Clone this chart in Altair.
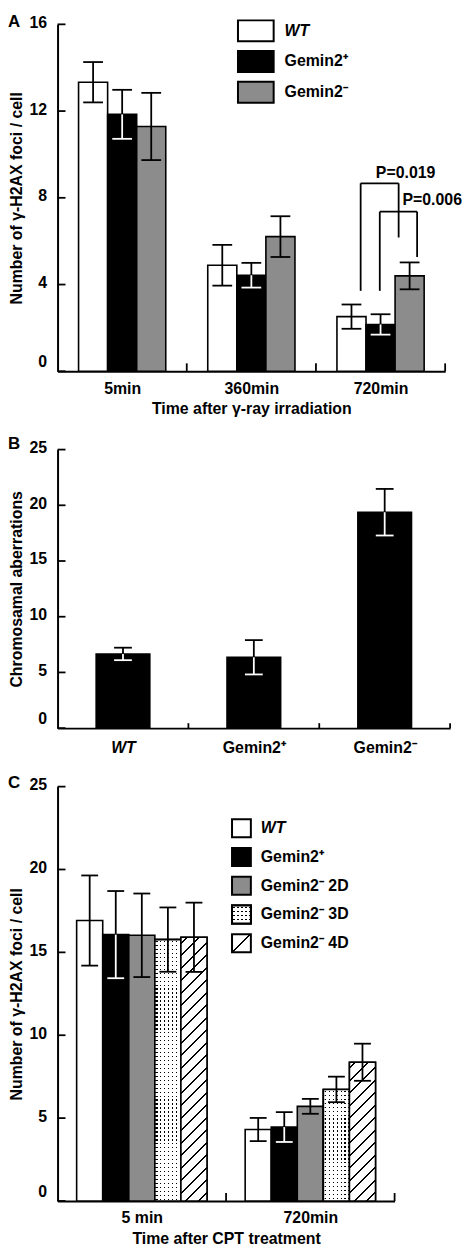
import json
import math
import pandas as pd
import altair as alt

FONT = "Liberation Sans"
WHITE, BLACK, GRAY = "#ffffff", "#000000", "#8c8c8c"
CLEAR_K, CLEAR_W = "rgba(0,0,0,0)", "rgba(255,255,255,0)"

# ---------------- Panel A data ----------------
a_times = ["5min", "360min", "720min"]
a_series = ["WT", "Gemin2⁺", "Gemin2⁻"]
a_wt = [13.33, 4.89, 2.52]
a_wt_err = [0.93, 0.94, 0.56]
a_gp = [11.85, 4.43, 2.16]
a_gp_err = [1.13, 0.57, 0.47]
a_gm = [11.29, 6.21, 4.40]
a_gm_err = [1.55, 0.94, 0.62]
a_yticks = [0, 4, 8, 12, 16]

p_labels = ["P=0.019", "P=0.006"]
p_left = [2.346, 2.494]
p_right = [2.640, 2.783]
p_top = [8.67, 7.36]
p_left_bottom = [3.71, 3.71]
p_right_bottom = [6.17, 5.27]
p_text_x = [2.694, 2.90]
p_text_y = [9.16, 7.88]

# ---------------- Panel B data ----------------
b_groups = ["WT", "Gemin2⁺", "Gemin2⁻"]
b_vals = [6.66, 6.36, 19.38]
b_errs = [0.56, 1.54, 2.09]
b_yticks = [0, 5, 10, 15, 20, 25]

# ---------------- Panel C data ----------------
c_times = ["5 min", "720min"]
c_series = ["WT", "Gemin2⁺", "Gemin2⁻ 2D", "Gemin2⁻ 3D", "Gemin2⁻ 4D"]
c_wt = [16.92, 4.31]
c_wt_err = [2.72, 0.70]
c_gp = [16.07, 4.46]
c_gp_err = [2.63, 0.90]
c_2d = [16.03, 5.71]
c_2d_err = [2.52, 0.45]
c_3d = [15.77, 6.73]
c_3d_err = [1.94, 0.77]
c_4d = [15.91, 8.37]
c_4d_err = [2.09, 1.12]
c_yticks = [0, 5, 10, 15, 20, 25]

# ---------------- layout ----------------
A_W, A_H = 391, 350
B_W, B_H = 396, 281
C_W, C_H = 340, 418


def make_rows(vals, errs, series, fills, lowcs, n_groups, bar_w, cap_w):
    rows = []
    k = len(series)
    key = 0
    for g in range(n_groups):
        for i, s in enumerate(series):
            xc = g + 0.5 + (i - (k - 1) / 2) * bar_w
            v, e = vals[i][g], errs[i][g]
            rows.append(dict(key=key, group=g, series=s, xc=xc,
                             x0=xc - bar_w / 2, x1=xc + bar_w / 2,
                             v=v, zero=0, hi=v + e, lo=v - e,
                             c0=xc - cap_w / 2, c1=xc + cap_w / 2,
                             fill=fills[i], lowc=lowcs[i]))
            key += 1
    return pd.DataFrame(rows)


def stripe_stops(segments, L, base, ink):
    stops = [{"offset": 0, "color": base}]
    for a, b in segments:
        a = max(0.0, min(1.0, a / L))
        b = max(0.0, min(1.0, b / L))
        stops += [{"offset": round(a, 5), "color": base},
                  {"offset": round(a, 5), "color": ink},
                  {"offset": round(b, 5), "color": ink},
                  {"offset": round(b, 5), "color": base}]
    stops.append({"offset": 1, "color": base})
    return stops


def hatch_fill(w, h, period=12.6, th=1.9, single=False):
    L = w + h
    if single:
        pos = [L / 2]
    else:
        pos = []
        p = period / 2
        while p < L:
            pos.append(p)
            p += period
    segs = [(p - th / 2, p + th / 2) for p in pos]
    c = (w + h) / (w * w + h * h)
    return {"gradient": "linear", "x1": 0, "y1": 0, "x2": c * w, "y2": c * h,
            "stops": stripe_stops(segs, L, WHITE, BLACK)}


def vstripe_fill(w, pitch=4.0, d=1.4):
    segs = []
    p = pitch / 2
    while p < w:
        segs.append((p - d / 2, p + d / 2))
        p += pitch
    return {"gradient": "linear", "x1": 0, "y1": 0, "x2": 1, "y2": 0,
            "stops": stripe_stops(segs, w, CLEAR_K, BLACK)}


def hstripe_fill(h, pitch=4.0, d=1.4):
    segs = []
    p = pitch / 2
    while p < h:
        segs.append((p - d / 2, p + d / 2))
        p += pitch
    return {"gradient": "linear", "x1": 0, "y1": 0, "x2": 0, "y2": 1,
            "stops": stripe_stops(segs, h, WHITE, CLEAR_W)}


TXT = dict(font=FONT, fontSize=16, fontWeight="bold", color=BLACK)


def legend_entry(label, x0, x1, y0, y1, tx, fills, italic=False):
    d = pd.DataFrame({"label": [label]})
    layers = []
    for f in fills:
        layers.append(alt.Chart(d).mark_rect(fill=f, stroke=BLACK, strokeWidth=2).encode(
            x=alt.value(x0), x2=alt.value(x1), y=alt.value(y0), y2=alt.value(y1)))
    layers.append(alt.Chart(d).mark_text(
        align="left", baseline="middle",
        fontStyle="italic" if italic else "normal", **TXT).encode(
        x=alt.value(tx), y=alt.value((y0 + y1) / 2), text="label:N"))
    return layers


def panel(df, n, W, H, ymax, yticks, xlabels, xtitle, ytitle, letter, letter_y,
          xlab_pad, pattern_layers=None, annot=None, italic_first=False, xtick_len=8):
    xs = alt.Scale(domain=[0, n], nice=False, zero=False)
    ys = alt.Scale(domain=[0, ymax], nice=False)
    label_expr = json.dumps(xlabels, ensure_ascii=False) + "[floor(datum.value)]"
    xkw = dict(values=[g + 0.5 for g in range(n)], labelExpr=label_expr,
               labelPadding=xlab_pad, titlePadding=5, labelFlush=False,
               labelOverlap=False, ticks=False, tickSize=0, grid=False)
    if italic_first:
        xkw["labelFontStyle"] = {"condition": {"test": "datum.value < 1", "value": "italic"},
                                 "value": "normal"}
    xaxis = alt.Axis(title=xtitle, **xkw)
    yaxis = alt.Axis(values=yticks, title=ytitle, labelPadding=11, titlePadding=5,
                     labelOffset=-2, labelFlush=False, labelOverlap=False,
                     labelBaseline={"condition": {"test": "datum.value === 0", "value": "bottom"},
                                    "value": "middle"},
                     ticks=False, tickSize=0, grid=False, format="d")

    def X(f):
        return alt.X(f, scale=xs, axis=xaxis)

    def Y(f):
        return alt.Y(f, scale=ys, axis=yaxis)

    base = alt.Chart(df)
    bars = base.mark_rect(stroke=BLACK, strokeWidth=1.6).encode(
        x=X("x0:Q"), x2="x1:Q", y=Y("v:Q"), y2="zero:Q",
        fill=alt.Fill("fill:N", scale=None))
    layers = [bars]
    if pattern_layers:
        layers += pattern_layers(base, X, Y)
    err_up = base.mark_rule(color=BLACK, strokeWidth=1.8).encode(
        x=X("xc:Q"), y=Y("v:Q"), y2="hi:Q")
    err_lo = base.mark_rule(strokeWidth=1.8).encode(
        x=X("xc:Q"), y=Y("lo:Q"), y2="v:Q", color=alt.Color("lowc:N", scale=None))
    cap_up = base.mark_rule(color=BLACK, strokeWidth=1.8).encode(
        x=X("c0:Q"), x2="c1:Q", y=Y("hi:Q"))
    cap_lo = base.mark_rule(strokeWidth=1.8).encode(
        x=X("c0:Q"), x2="c1:Q", y=Y("lo:Q"), color=alt.Color("lowc:N", scale=None))
    layers += [err_up, err_lo, cap_up, cap_lo]
    yt = alt.Chart(pd.DataFrame({"t": yticks})).mark_rule(color=BLACK, strokeWidth=1.8).encode(
        x=alt.value(0), x2=alt.value(8), y=Y("t:Q"))
    xt = alt.Chart(pd.DataFrame({"b": list(range(1, n + 1))})).mark_rule(
        color=BLACK, strokeWidth=1.8).encode(
        x=X("b:Q"), y=alt.value(H), y2=alt.value(H - xtick_len))
    layers += [yt, xt]
    if annot:
        layers += annot(X, Y)
    let = alt.Chart(pd.DataFrame({"t": [letter]})).mark_text(
        align="left", baseline="top", font=FONT, fontSize=17, fontWeight="bold",
        color=BLACK).encode(x=alt.value(-50), y=alt.value(letter_y), text="t:N")
    layers.append(let)
    return alt.layer(*layers).properties(width=W, height=H)


# ---------------- Panel A ----------------
dfA = make_rows([a_wt, a_gp, a_gm], [a_wt_err, a_gp_err, a_gm_err], a_series,
                [WHITE, BLACK, GRAY], [BLACK, WHITE, BLACK], 3, 0.225, 0.153)


def annot_A(X, Y):
    segs = []
    for i in range(len(p_labels)):
        segs.append(dict(x=p_left[i], x2=p_right[i], y=p_top[i], y2=p_top[i]))
        segs.append(dict(x=p_left[i], x2=p_left[i], y=p_left_bottom[i], y2=p_top[i]))
        segs.append(dict(x=p_right[i], x2=p_right[i], y=p_right_bottom[i], y2=p_top[i]))
    br = alt.Chart(pd.DataFrame(segs)).mark_rule(color=BLACK, strokeWidth=1.8).encode(
        x=X("x:Q"), x2="x2:Q", y=Y("y:Q"), y2="y2:Q")
    tx = alt.Chart(pd.DataFrame({"label": p_labels, "x": p_text_x, "y": p_text_y})).mark_text(
        align="center", baseline="middle", **TXT).encode(
        x=X("x:Q"), y=Y("y:Q"), text="label:N")
    leg = []
    a_fills = [WHITE, BLACK, GRAY]
    for i, s in enumerate(a_series):
        y0 = -4 + i * 31
        leg += legend_entry(s, 182, 218, y0, y0 + 21, 229, [a_fills[i]], italic=(i == 0))
    return [br, tx] + leg


chartA = panel(dfA, 3, A_W, A_H, 16, a_yticks, a_times, "Time after γ-ray irradiation",
               "Number of γ-H2AX foci / cell", "A", -10, 9, annot=annot_A)

# ---------------- Panel B ----------------
dfB = make_rows([b_vals], [b_errs], ["bar"], [BLACK], [WHITE], 3, 0.41, 0.136)
chartB = panel(dfB, 3, B_W, B_H, 25, b_yticks, b_groups, None, "Chromosamal aberrations",
               "B", -14, 12, italic_first=True, xtick_len=5)

# ---------------- Panel C ----------------
C_BW = 0.1547
dfC = make_rows([c_wt, c_gp, c_2d, c_3d, c_4d],
                [c_wt_err, c_gp_err, c_2d_err, c_3d_err, c_4d_err], c_series,
                [WHITE, BLACK, GRAY, WHITE, WHITE], [BLACK, WHITE, BLACK, BLACK, BLACK],
                2, C_BW, 0.10)
px_x = C_W / 2.0
px_y = C_H / 25.0


def patterns_C(base, X, Y):
    out = []
    w = C_BW * px_x
    for _, r in dfC.iterrows():
        h = r["v"] * px_y
        flt = "datum.key == %d" % r["key"]
        enc = dict(x=X("x0:Q"), x2="x1:Q", y=Y("v:Q"), y2="zero:Q")
        if r["series"] == c_series[3]:
            out.append(base.transform_filter(flt).mark_rect(
                fill=vstripe_fill(w), stroke=BLACK, strokeWidth=1.6).encode(**enc))
            out.append(base.transform_filter(flt).mark_rect(
                fill=hstripe_fill(h), stroke=BLACK, strokeWidth=1.6).encode(**enc))
        elif r["series"] == c_series[4]:
            out.append(base.transform_filter(flt).mark_rect(
                fill=hatch_fill(w, h), stroke=BLACK, strokeWidth=1.6).encode(**enc))
    return out


def annot_C(X, Y):
    leg = []
    lw, lh = 19, 18
    fills = [[WHITE], [BLACK], [GRAY],
             [WHITE, vstripe_fill(lw), hstripe_fill(lh)],
             [hatch_fill(lw, lh, single=True)]]
    for i, s in enumerate(c_series):
        y0 = 33 + i * 29
        leg += legend_entry(s, 176, 176 + lw, y0, y0 + lh, 205, fills[i], italic=(i == 0))
    return leg


chartC = panel(dfC, 2, C_W, C_H, 25, c_yticks, c_times, "Time after CPT treatment",
               "Number of γ-H2AX foci / cell", "C", -12, 9,
               pattern_layers=patterns_C, annot=annot_C)

chart = alt.vconcat(chartA, chartB, chartC, spacing=18).properties(padding=0).configure_view(
    stroke=None
).configure_axis(
    labelFont=FONT, labelFontSize=16, labelFontWeight="bold", labelColor=BLACK,
    titleFont=FONT, titleFontSize=16, titleFontWeight="bold", titleColor=BLACK,
    domainColor=BLACK, domainWidth=2
)

chart.save("out.html", embed_options={"renderer": "svg", "actions": False})
